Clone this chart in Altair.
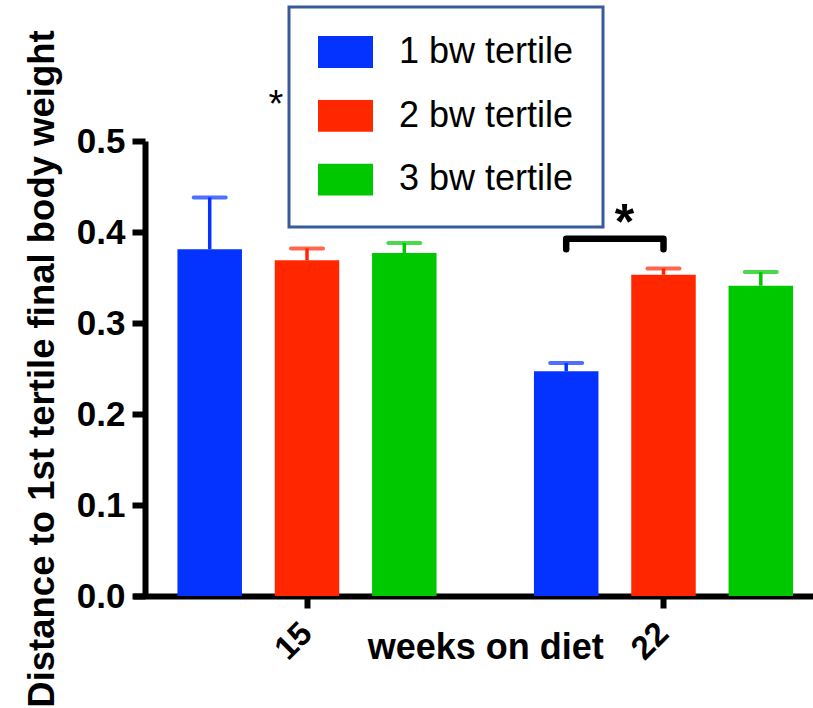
import altair as alt
import pandas as pd

# Groups, series and values
weeks = ["15", "22"]
tertiles = ["1 bw tertile", "2 bw tertile", "3 bw tertile"]
colors = ["#0433FF", "#FF2600", "#00C800"]

mean_15 = [0.381, 0.369, 0.377]
mean_22 = [0.247, 0.353, 0.341]
sem_15 = [0.057, 0.013, 0.011]
sem_22 = [0.009, 0.007, 0.015]

y_ticks = [0.0, 0.1, 0.2, 0.3, 0.4, 0.5]

# Significance bracket between tertile 1 and 2 at 22 weeks
bracket_tertiles = ["1 bw tertile", "1 bw tertile", "2 bw tertile", "2 bw tertile"]
bracket_y = [0.381, 0.3926, 0.3926, 0.381]

FONT = "Liberation Sans"

rows = []
for w, means, sems in [("15", mean_15, sem_15), ("22", mean_22, sem_22)]:
    for t, m, s in zip(tertiles, means, sems):
        rows.append({"week": w, "tertile": t, "mean": m, "upper": m + s})
df = pd.DataFrame(rows)

bracket_df = pd.DataFrame({
    "week": ["22"] * 4,
    "tertile": bracket_tertiles,
    "y": bracket_y,
    "step": list(range(4)),
})

stars_df = pd.DataFrame({
    "week": ["15", "22"],
    "y": [0.526, 0.3918],
    "label": ["*", "*"],
})

x_enc = alt.X(
    "week:N",
    sort=weeks,
    scale=alt.Scale(range=[-12, 692.5], paddingInner=0.1, paddingOuter=0.0381),
    axis=alt.Axis(
        title="weeks on diet",
        titleFont=FONT, titleFontSize=36, titleFontWeight="bold", titleColor="black",
        titleY=62, titleBaseline="alphabetic",
        labelAngle=-45, labelAlign="right", labelBaseline="middle",
        labelFont=FONT, labelFontSize=33, labelFontWeight="bold", labelColor="black",
        labelPadding=20, labelOffset=0,
        domainColor="black", domainWidth=6,
        tickColor="black", tickWidth=6, tickSize=12,
    ),
)
xoff_enc = alt.XOffset(
    "tertile:N", sort=tertiles,
    scale=alt.Scale(paddingInner=0.3371, paddingOuter=0.3173),
)
y_scale = alt.Scale(domain=[0, 0.5], nice=False, zero=True)
color_scale = alt.Scale(domain=tertiles, range=colors)

bars = alt.Chart(df).mark_bar().encode(
    x=x_enc,
    xOffset=xoff_enc,
    y=alt.Y(
        "mean:Q",
        scale=y_scale,
        axis=alt.Axis(
            values=y_ticks, format=".1f", grid=False,
            title="Distance to 1st tertile final body weight",
            titleFont=FONT, titleFontSize=36.5, titleFontWeight="bold", titleColor="black",
            titleX=-92, titleBaseline="alphabetic",
            labelFont=FONT, labelFontSize=35, labelFontWeight="bold", labelColor="black",
            labelPadding=7,
            domainColor="black", domainWidth=6,
            tickColor="black", tickWidth=6, tickSize=13,
        ),
    ),
    color=alt.Color(
        "tertile:N",
        sort=tertiles,
        scale=color_scale,
        legend=alt.Legend(
            title=None,
            orient="none", legendX=144, legendY=-134,
            symbolType="M-1,-0.582H1V0.582H-1Z", symbolSize=3025,
            symbolStrokeWidth=0, symbolOpacity=1,
            clipHeight=32, rowPadding=27.7, labelOffset=26,
            labelFont=FONT, labelFontSize=36, labelColor="black", labelLimit=400,
            padding=29, strokeColor="#3B5B98",
        ),
    ),
)

whiskers = alt.Chart(df).mark_rule(strokeWidth=3.5).encode(
    x=alt.X("week:N", sort=weeks),
    xOffset=alt.XOffset("tertile:N", sort=tertiles),
    y=alt.Y("mean:Q", scale=y_scale),
    y2="upper:Q",
    color=alt.Color("tertile:N", sort=tertiles, scale=color_scale, legend=None),
)

caps = alt.Chart(df).mark_tick(orient="horizontal", size=36, thickness=4, cornerRadius=2).encode(
    x=alt.X("week:N", sort=weeks),
    xOffset=alt.XOffset("tertile:N", sort=tertiles),
    y=alt.Y("upper:Q", scale=y_scale),
    color=alt.Color("tertile:N", sort=tertiles, scale=color_scale, legend=None),
)

bracket = alt.Chart(bracket_df).mark_line(
    color="black", strokeWidth=6.5, strokeCap="round", strokeJoin="round"
).encode(
    x=alt.X("week:N", sort=weeks),
    xOffset=alt.XOffset("tertile:N", sort=tertiles),
    y=alt.Y("y:Q", scale=y_scale),
    order="step:Q",
)

small_star = alt.Chart(stars_df.iloc[[0]]).mark_text(
    font=FONT, fontSize=38, color="black", baseline="alphabetic", align="center", dx=-31
).encode(
    x=alt.X("week:N", sort=weeks),
    y=alt.Y("y:Q", scale=y_scale),
    text="label:N",
)

big_star = alt.Chart(stars_df.iloc[[1]]).mark_text(
    font=FONT, fontSize=50, fontWeight="bold", color="black", baseline="alphabetic",
    align="center", dx=-39
).encode(
    x=alt.X("week:N", sort=weeks),
    y=alt.Y("y:Q", scale=y_scale),
    text="label:N",
)

chart = alt.layer(bars, whiskers, caps, bracket, small_star, big_star).properties(
    width=668,
    height=455,
    autosize=alt.AutoSizeParams(type="none"),
    padding={"left": 145, "top": 141, "right": 0, "bottom": 112},
).configure_view(stroke=None).configure_legend(strokeWidth=3)

chart.save("out.html", embed_options={"renderer": "svg", "actions": False})
